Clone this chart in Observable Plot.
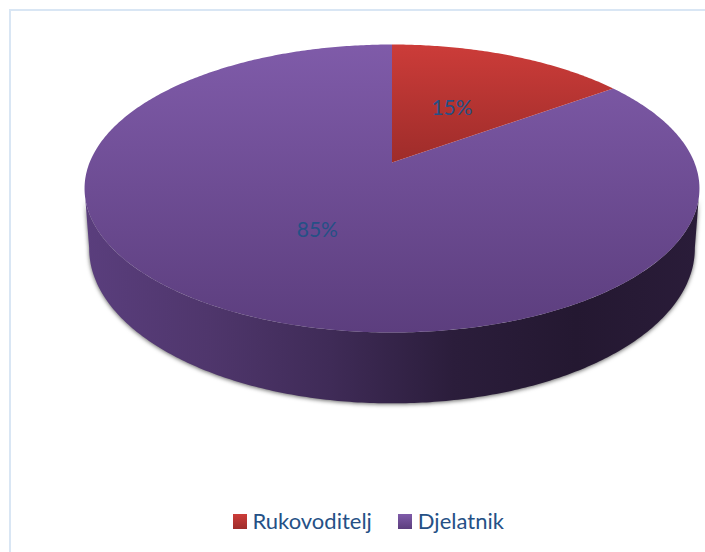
<!DOCTYPE html>
<html>
<head>
<meta charset="utf-8">
<script src="https://cdn.jsdelivr.net/npm/d3@7"></script>
<script src="https://cdn.jsdelivr.net/npm/@observablehq/plot@0.6"></script>
<style>
  html, body { margin: 0; padding: 0; background: #fff; }
  #chart { position: relative; width: 705px; height: 552px; overflow: hidden; font-family: Lato, sans-serif; }
  #chart::before { content: ""; position: absolute; left: 9px; top: 9px; right: -4px; bottom: -4px; border: 2px solid #d9e6f4; }
  #chart svg { position: absolute; left: 0; top: 0; display: block; background: transparent; }
  #legend { position: absolute; left: 232.5px; top: 504px; height: 34px; display: flex; align-items: center; color: #255086; font-size: 22px; line-height: 34px; white-space: nowrap; }
  #legend .sw { display: inline-block; width: 14px; height: 15px; margin-right: 6px; }
  #legend .item { display: inline-flex; align-items: center; }
  #legend .item + .item { margin-left: 26px; }
</style>
</head>
<body>
<div id="chart"></div>
<script>
// Data
const categories = ["Rukovoditelj", "Djelatnik"];
const shares = [15, 85];
const labels = ["15%", "85%"];
const labelRadius = [0.47, 0.5];

// Look of the 3D pie
const perspective = 0.1806; // foreshortening of the disc
const bottomScaleX = 0.985; // lower rim is slightly narrower
const bottomScaleY = 1.076; // and slightly deeper
const bottomDrop = -0.416;  // lower rim offset, in y units of the disc
const sideStart = 1.82;     // radians from the back where the rim wall appears
const topStops = {
  Rukovoditelj: ["#cc3c39", "#9e2c2a"],
  Djelatnik: ["#7f5ba9", "#5c3e7e"]
};
const wallStops = ["#5a3e7d", "#4f366c", "#3f2b57", "#2b1d3b", "#241831", "#2a1c39"];

// Disc projection: angle clockwise from the back, radius 0..1
const projX = (a, r) => (r * Math.sin(a)) / (1 + perspective * r * Math.cos(a));
const projY = (a, r) => (r * Math.cos(a)) / (1 + perspective * r * Math.cos(a));

const arcs = d3.pie().sort(null)(shares);
const sampleAngles = (a0, a1) => {
  const n = Math.max(2, Math.ceil(Math.abs(a1 - a0) * 90));
  return d3.range(n + 1).map(i => a0 + ((a1 - a0) * i) / n);
};

const slices = arcs.map((arc, i) => ({
  category: categories[i],
  points: [
    { x: 0, y: 0 },
    ...sampleAngles(arc.startAngle, arc.endAngle).map(a => ({ x: projX(a, 1), y: projY(a, 1) })),
    { x: 0, y: 0 }
  ]
}));

const wall = [
  ...sampleAngles(sideStart, 2 * Math.PI - sideStart).map(a => ({ x: projX(a, 1), y: projY(a, 1) })),
  ...sampleAngles(2 * Math.PI - sideStart + 0.07, sideStart - 0.07).map(a => ({
    x: bottomScaleX * projX(a, 1),
    y: bottomDrop + bottomScaleY * projY(a, 1)
  }))
];

const labelData = arcs.map((arc, i) => {
  const mid = (arc.startAngle + arc.endAngle) / 2;
  return { label: labels[i], x: projX(mid, labelRadius[i]), y: projY(mid, labelRadius[i]) };
});

const gradient = (id, stops, horizontal) => {
  const g = document.createElementNS("http://www.w3.org/2000/svg", "linearGradient");
  g.setAttribute("id", id);
  g.setAttribute("x1", "0"); g.setAttribute("y1", "0");
  g.setAttribute("x2", horizontal ? "1" : "0"); g.setAttribute("y2", horizontal ? "0" : "1");
  stops.forEach((c, i) => {
    const s = document.createElementNS("http://www.w3.org/2000/svg", "stop");
    s.setAttribute("offset", i / (stops.length - 1));
    s.setAttribute("stop-color", c);
    g.appendChild(s);
  });
  return g;
};

const defsMark = () => {
  const d = document.createElementNS("http://www.w3.org/2000/svg", "defs");
  categories.forEach((c, i) => d.appendChild(gradient("top" + i, topStops[c], false)));
  d.appendChild(gradient("wall", wallStops, true));
  return d;
};

const cx = 391.5, cy = 162, ax = 302.4, ay = 139.3;

const plot = Plot.plot({
  width: 705,
  height: 500,
  margin: 0,
  style: { background: "transparent" },
  x: { axis: null, domain: [-1, 1], range: [cx - ax, cx + ax] },
  y: { axis: null, domain: [-1, 1], range: [cy + ay, cy - ay] },
  marks: [
    defsMark,
    Plot.line(wall, {
      x: "x", y: "y", fill: "url(#wall)", stroke: "none", curve: "linear",
      imageFilter: "drop-shadow(0px 1px 2px rgba(0,0,0,0.6))"
    }),
    ...[1, 0].map(i => Plot.line(slices[i].points, {
      x: "x", y: "y", fill: `url(#top${i})`, stroke: "none", curve: "linear"
    })),
    Plot.text(labelData, {
      x: "x", y: "y", text: "label", fill: "#255086",
      fontFamily: "Lato, sans-serif", fontSize: 21, textAnchor: "middle", lineAnchor: "middle"
    })
  ]
});

const chart = document.getElementById("chart");
chart.appendChild(plot);

const legend = document.createElement("div");
legend.id = "legend";
categories.forEach((c) => {
  const item = document.createElement("span");
  item.className = "item";
  const sw = document.createElement("span");
  sw.className = "sw";
  sw.style.background = `linear-gradient(${topStops[c][0]}, ${topStops[c][1]})`;
  const t = document.createElement("span");
  t.textContent = c;
  item.append(sw, t);
  legend.appendChild(item);
});
chart.appendChild(legend);
</script>
</body>
</html>
